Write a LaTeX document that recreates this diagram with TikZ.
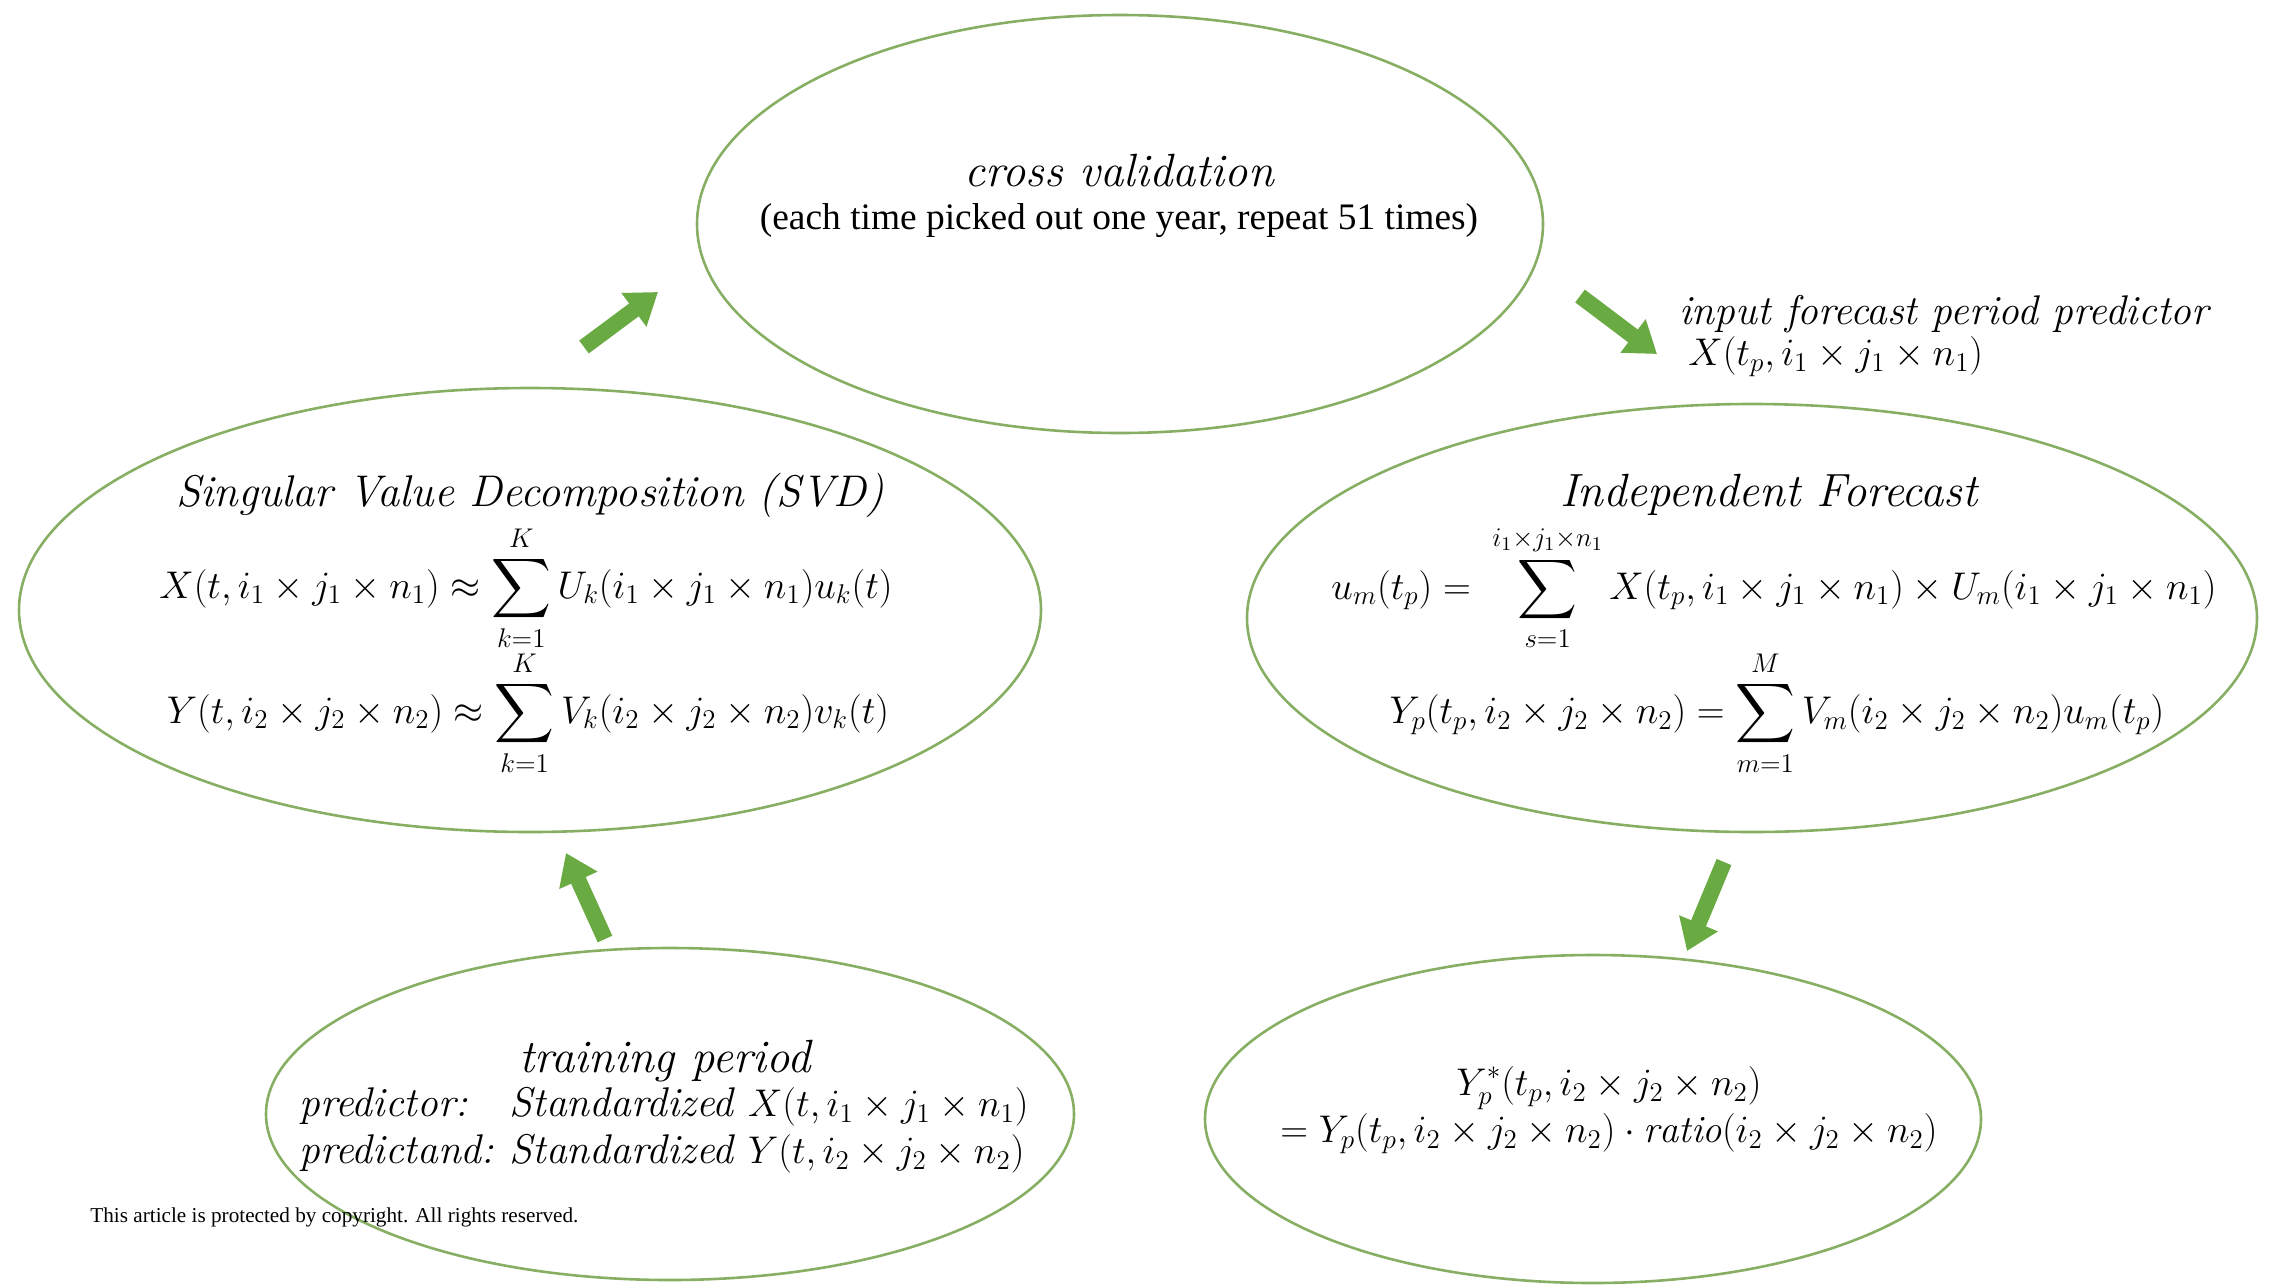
\RequirePackage{fix-cm}
\documentclass[tikz,border=0pt]{standalone}
\usepackage{amsmath}
\usepackage{fontspec}
\newfontfamily\timesfont{Liberation Serif}
\usetikzlibrary{shapes.geometric,arrows.meta}
\definecolor{ringgreen}{RGB}{135,175,100}
\definecolor{arrowgreen}{RGB}{106,170,66}
\newcommand{\mth}[1]{{\fontsize{19.3}{23}\selectfont$\displaystyle #1$}}
\tikzset{
  ring/.style={draw=ringgreen, line width=1.3pt, ellipse, inner sep=0pt},
  blockarrow/.style={draw=arrowgreen, line width=8pt, -{Triangle[length=15pt,width=20pt]}},
  big/.style={font=\fontsize{20.74}{23.5}\selectfont, inner sep=0pt},
  ttl/.style={font=\fontsize{23.3}{26}\selectfont\itshape, inner sep=0pt},
  sub/.style={font=\timesfont\fontsize{18.7}{21}\selectfont, inner sep=0pt},
}
\begin{document}
\begin{tikzpicture}[x=0.5pt,y=-0.5pt]
\useasboundingbox (0,0) rectangle (2276,1286);
% ellipses
\node[ring, minimum width=423pt, minimum height=209pt] (cv) at (1120,224) {};
\node[ring, minimum width=511pt, minimum height=222pt] (svd) at (530,610) {};
\node[ring, minimum width=505pt, minimum height=214pt] (ifc) at (1752,618) {};
\node[ring, minimum width=404pt, minimum height=166pt] (train) at (670,1114) {};
\node[ring, minimum width=388pt, minimum height=164pt] (ratio) at (1593,1119) {};
% texts
\node[ttl] (cvt) at (1119,171) {cross validation};
\node[sub] (cvs) at (1119,221) {(each time picked out one year, repeat 51 times)};
\node[big, anchor=west] (inp) at (1679,314) {\textit{input forecast period predictor}};
\node[big, anchor=west] (inpx) at (1688,357) {\mth{X(t_p,i_1\times j_1\times n_1)}};
\node[ttl, font=\fontsize{22.2}{26}\selectfont\itshape] (svdt) at (530,495) {Singular Value Decomposition (SVD)};
\node[big] (svde1) at (526,588) {\mth{X(t,i_1\times j_1\times n_1)\approx \sum_{k=1}^{K} U_k(i_1\times j_1\times n_1)u_k(t)}};
\node[big] (svde2) at (528,713) {\mth{Y(t,i_2\times j_2\times n_2)\approx \sum_{k=1}^{K} V_k(i_2\times j_2\times n_2)v_k(t)}};
\node[ttl] (ift) at (1769,495) {Independent Forecast};
\node[big] (ife1) at (1774,588) {\mth{u_m(t_p) = \;\sum_{s=1}^{i_1\times j_1\times n_1} X(t_p,i_1\times j_1\times n_1)\times U_m(i_1\times j_1\times n_1)}};
\node[big] (ife2) at (1777,713) {\mth{Y_p(t_p,i_2\times j_2\times n_2) = \sum_{m=1}^{M} V_m(i_2\times j_2\times n_2)u_m(t_p)}};
\node[ttl] (trt) at (665,1061) {training period};
\node[big] (trb) at (664,1131) {\begin{tabular}{@{}l@{\hspace{8pt}}l@{}}
\textit{predictor:} & \textit{Standardized} \mth{X(t,i_1\times j_1\times n_1)}\\
\textit{predictand:} & \textit{Standardized} \mth{Y(t,i_2\times j_2\times n_2)}
\end{tabular}};
\node[big, align=center] (rat) at (1609,1110) {\mth{Y_p^{*}(t_p,i_2\times j_2\times n_2)}\\
\mth{= Y_p(t_p,i_2\times j_2\times n_2)\cdot \mathit{ratio}(i_2\times j_2\times n_2)}};
\node[font=\timesfont\fontsize{10.6}{12}\selectfont, anchor=west, inner sep=0pt] (copy) at (90,1217) {This article is protected by copyright. All rights reserved.};
% arrows
\coordinate (a1s) at (584,347); \coordinate (a1e) at (658,292);
\coordinate (a2s) at (1580,296); \coordinate (a2e) at (1657,354);
\coordinate (a3s) at (1724,862); \coordinate (a3e) at (1687,951);
\coordinate (a4s) at (605,939); \coordinate (a4e) at (566,853);
\draw[blockarrow] (a1s) -- (a1e);
\draw[blockarrow] (a2s) -- (a2e);
\draw[blockarrow] (a3s) -- (a3e);
\draw[blockarrow] (a4s) -- (a4e);
\end{tikzpicture}
\end{document}
